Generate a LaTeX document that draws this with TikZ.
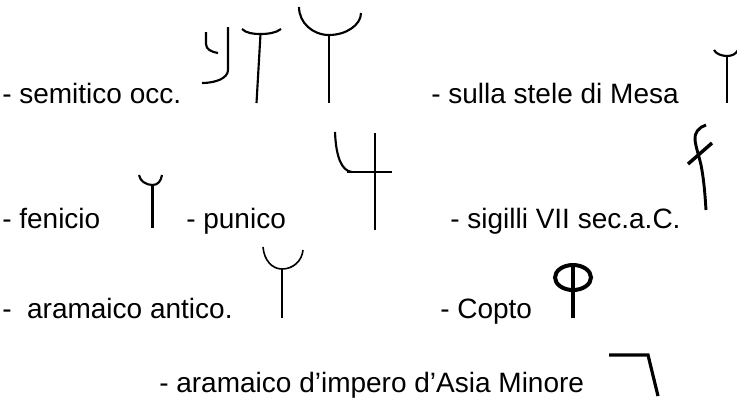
\documentclass[tikz,border=0pt]{standalone}
\usepackage{fontspec}
\setmainfont{Liberation Sans}
\usetikzlibrary{positioning}

\tikzset{
  lbl/.style={anchor=base west,inner sep=0pt,font=\fontsize{21}{25}\selectfont},
  glyph/.style={line width=1.6pt,line cap=butt},
  thick glyph/.style={line width=3pt}
}

\begin{document}
\begin{tikzpicture}[x=0.75pt,y=-0.75pt]
  \useasboundingbox (0,0) rectangle (737,405);
  % labels
  \node[lbl] (semitico) at (2,103) {- semitico occ.};
  \node[lbl] (mesa) at (431,103) {- sulla stele di Mesa};
  \node[lbl] (fenicio) at (2,228) {- fenicio};
  \node[lbl] (punico) at (186,228) {- punico};
  \node[lbl] (sigilli) at (450,228) {- sigilli VII sec.a.C.};
  \node[lbl] (antico) at (2,318) {-\ \ aramaico antico.};
  \node[lbl] (copto) at (440,318) {- Copto};
  \node[lbl] (impero) at (159,392) {- aramaico d’impero d’Asia Minore};
  % semitico occidentale
  \draw[glyph] (206,32) -- (206,44) .. controls (206,49) and (211,52) .. (218,53);
  \draw[glyph] (228,27) -- (228,70) .. controls (228,78) and (216,83) .. (202,83);
  \draw[glyph] (242,29) .. controls (246,33) and (253,34) .. (260,34) .. controls (268,34) and (276,33) .. (281,29);
  \draw[glyph] (260.5,34) -- (256.5,103);
  \draw[glyph] (299,7) .. controls (299,23) and (313,35) .. (329,35) .. controls (346,35) and (361,25) .. (361,13);
  \draw[glyph] (329,35) -- (329,103);
  % Mesa
  \draw[glyph] (714,50) .. controls (716,54) and (722,56) .. (727,56) .. controls (732,56) and (736,54) .. (738,50);
  \draw[glyph] (727,56) -- (727,103);
  % fenicio
  \draw[glyph] (139,175) .. controls (140,181) and (146,185) .. (152.5,185) .. controls (158,185) and (161,181) .. (162,175);
  \draw[glyph] (152.5,185) -- (152.5,228);
  % punico
  \draw[glyph] (335,132) .. controls (336,158) and (342,171) .. (352,172);
  \draw[glyph] (347,172) -- (392,172);
  \draw[glyph] (375,133) -- (375,230);
  % sigilli
  \draw[glyph,line width=2.2pt] (706,125) .. controls (699,127) and (694,133) .. (695,140) .. controls (696,148) and (699,156) .. (701,165) .. controls (704,180) and (705,195) .. (706,210);
  \draw[glyph,line width=2.6pt] (688,164) -- (712,143);
  % aramaico antico
  \draw[glyph,line width=1.2pt] (263,247) .. controls (264,260) and (272,269) .. (282,269) .. controls (293,269) and (302,261) .. (303,250);
  \draw[glyph,line width=1.2pt] (282,269) -- (282,318);
  % Copto
  \draw[thick glyph] (573,277.5) ellipse [x radius=18,y radius=12.5];
  \draw[thick glyph] (572.5,263) -- (572.5,318);
  % aramaico d'impero
  \draw[glyph,line width=2.4pt] (609,355) -- (648,355) -- (658,396);
\end{tikzpicture}
\end{document}
